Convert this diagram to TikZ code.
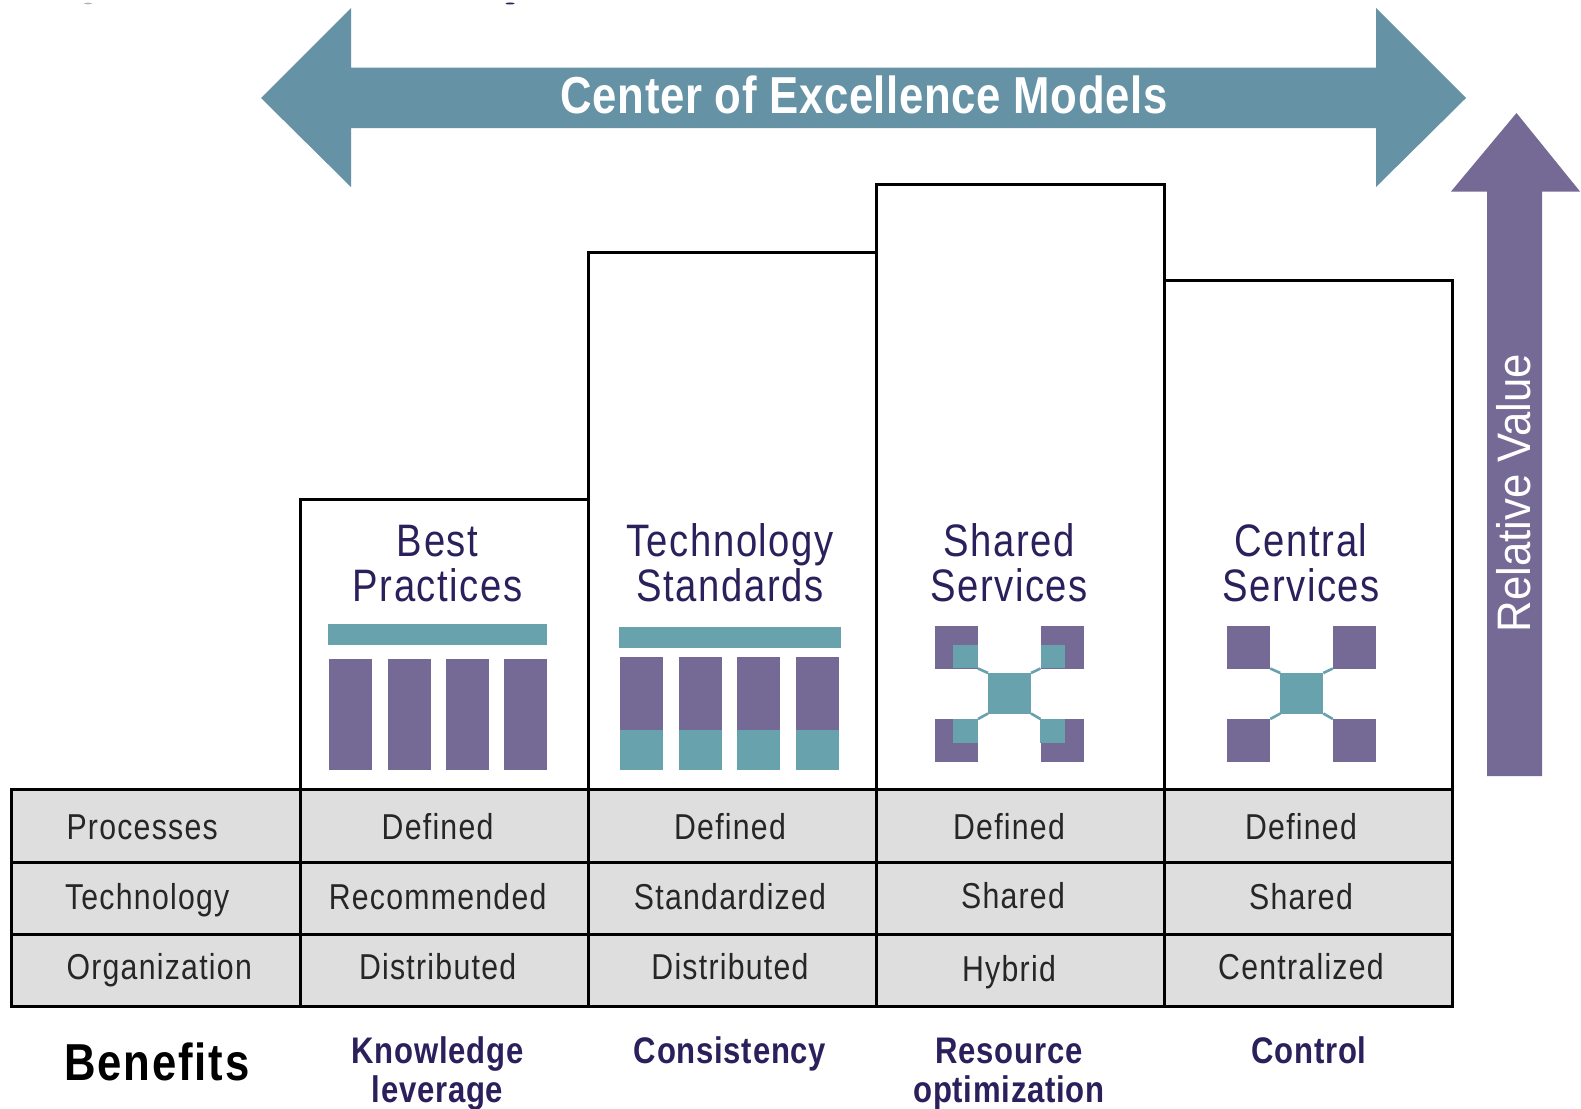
\documentclass[tikz,border=0pt]{standalone}
\usepackage{fontspec}
\setmainfont{Liberation Sans}
\newfontfamily\condfont[FakeStretch=0.84,LetterSpace=3.5]{Liberation Sans}
\newfontfamily\benfont[FakeStretch=0.84,LetterSpace=2]{Liberation Sans}
\newfontfamily\titlefont[FakeStretch=0.84,LetterSpace=1.2]{Liberation Sans}
\newfontfamily\relfont[FakeStretch=0.93]{Liberation Sans}
\definecolor{bluearrow}{HTML}{6592A5}
\definecolor{purp}{HTML}{756996}
\definecolor{tealc}{HTML}{67A2AD}
\definecolor{darktext}{HTML}{2B1F5C}
\definecolor{cellgray}{HTML}{DEDEDE}
\tikzset{
  box/.style={draw=black,line width=3pt,fill=white},
  cell/.style={draw=black,line width=3pt,fill=cellgray},
  fillbar/.style={inner sep=0pt,outer sep=0pt,anchor=north west},
  heading/.style={anchor=base,text=darktext,font=\condfont\fontsize{45.5}{45.5}\selectfont},
  tabletext/.style={anchor=base,text=black!85,font=\condfont\fontsize{36}{36}\selectfont},
  sidetext/.style={tabletext,anchor=base west},
  benefit/.style={anchor=base,text=darktext,font=\benfont\bfseries\fontsize{37}{37}\selectfont},
  link/.style={draw=tealc,line width=2.6pt},
}
\newcommand{\icon}[2]{% #1 = name prefix, #2 = left x offset
  \begin{scope}[shift={(#2,0)}]
  \node[fillbar,fill=purp,minimum width=43pt,minimum height=43pt] (#1tl) at (0,625.5) {};
  \node[fillbar,fill=purp,minimum width=43pt,minimum height=43pt] (#1tr) at (105.5,625.5) {};
  \node[fillbar,fill=purp,minimum width=43pt,minimum height=43pt] (#1bl) at (0,719) {};
  \node[fillbar,fill=purp,minimum width=43pt,minimum height=43pt] (#1br) at (105.5,719) {};
  \node[fillbar,fill=tealc,minimum width=43pt,minimum height=40.5pt] (#1c) at (53,673) {};
  \end{scope}
  \draw[link] (#1tl.south east) -- (#1c.north west);
  \draw[link] (#1tr.south west) -- (#1c.north east);
  \draw[link] (#1bl.north east) -- (#1c.south west);
  \draw[link] (#1br.north west) -- (#1c.south east);
}
\begin{document}
\begin{tikzpicture}[x=1pt,y=-1pt]
\useasboundingbox (0,0) rectangle (1581,1108);
\fill[white] (0,0) rectangle (1581,1108);
% clipped specks at the top edge
\fill[black!30] (88,3.5) ellipse (4 and 0.8);
\fill[darktext] (510,3.5) ellipse (4.5 and 1);
% top arrow
\fill[bluearrow] (261,98) -- (351,8) -- (351,67.5) -- (1376,67.5) -- (1376,8) -- (1466,98) -- (1376,187) -- (1376,128) -- (351,128) -- (351,187) -- cycle;
\node[anchor=base,text=white,font=\titlefont\bfseries\fontsize{52}{52}\selectfont] (title) at (864,113) {Center of Excellence Models};
% up arrow
\fill[purp] (1516.5,113) -- (1580,191.5) -- (1542,191.5) -- (1542,776) -- (1487,776) -- (1487,191.5) -- (1451,191.5) -- cycle;
\node[rotate=90,text=white,font=\relfont\fontsize{47}{47}\selectfont] (relval) at (1514,493) {Relative Value};
% columns
\draw[box] (300,789.5) rectangle (588,499);
\draw[box] (588,789.5) rectangle (876,252);
\draw[box] (876,789.5) rectangle (1164.5,184.5);
\draw[box] (1164.5,789.5) rectangle (1452.5,280);
% headings
\node[heading] (h1a) at (437.6,556) {Best};
\node[heading] (h1b) at (437.6,601.5) {Practices};
\node[heading] (h2a) at (730,556) {Technology};
\node[heading] (h2b) at (730,601.5) {Standards};
\node[heading] (h3a) at (1009,556) {Shared};
\node[heading] (h3b) at (1009,601.5) {Services};
\node[heading] (h4a) at (1301,556) {Central};
\node[heading] (h4b) at (1301,601.5) {Services};
% icon col 1
\fill[tealc] (328,624) rectangle (547,645);
\foreach \x in {329,387.5,446,504} \fill[purp] (\x,658.5) rectangle (\x+43,769.5);
% icon col 2
\fill[tealc] (619,626.5) rectangle (841,647.5);
\foreach \x in {620,678.5,737,796} {
  \fill[purp] (\x,656.5) rectangle (\x+43,730);
  \fill[tealc] (\x,730) rectangle (\x+43,769.5);
}
% hub icons
\icon{a}{935}
\fill[tealc] (953.3,645) rectangle (978,668.3);
\fill[tealc] (1040.7,645) rectangle (1065.3,668.3);
\fill[tealc] (953.3,718.7) rectangle (978,742.7);
\fill[tealc] (1040,718.7) rectangle (1064.7,742.7);
\icon{b}{1227.3}
% table
\foreach \xa/\xb in {11.5/300,300/588,588/876,876/1164.5,1164.5/1452.5}
  \foreach \ya/\yb in {789.5/862,862/934,934/1006}
    \draw[cell] (\xa,\ya) rectangle (\xb,\yb);
\node[sidetext] (r1) at (63,839) {Processes};
\node[sidetext] (r2) at (61.5,909.5) {Technology};
\node[sidetext] (r3) at (63,979) {Organization};
\node[tabletext] (c11) at (437.6,839) {Defined};
\node[tabletext] (c12) at (730,839) {Defined};
\node[tabletext] (c13) at (1009,839) {Defined};
\node[tabletext] (c14) at (1301,839) {Defined};
\node[tabletext] (c21) at (437.6,909.5) {Recommended};
\node[tabletext] (c22) at (730,909.5) {Standardized};
\node[tabletext] (c23) at (1013,908) {Shared};
\node[tabletext] (c24) at (1301,909.5) {Shared};
\node[tabletext] (c31) at (437.6,979) {Distributed};
\node[tabletext] (c32) at (730,979) {Distributed};
\node[tabletext] (c33) at (1009,981) {Hybrid};
\node[tabletext] (c34) at (1301,979) {Centralized};
% benefits
\node[anchor=base west,text=black,font=\condfont\bfseries\fontsize{52}{52}\selectfont] (ben) at (61,1080) {Benefits};
\node[benefit] (b1a) at (437.6,1063) {Knowledge};
\node[benefit] (b1b) at (437.6,1102) {leverage};
\node[benefit] (b2) at (730,1063) {Consistency};
\node[benefit] (b3a) at (1009,1063) {Resource};
\node[benefit] (b3b) at (1009,1102) {optimization};
\node[benefit] (b4) at (1309,1063) {Control};
\end{tikzpicture}
\end{document}
